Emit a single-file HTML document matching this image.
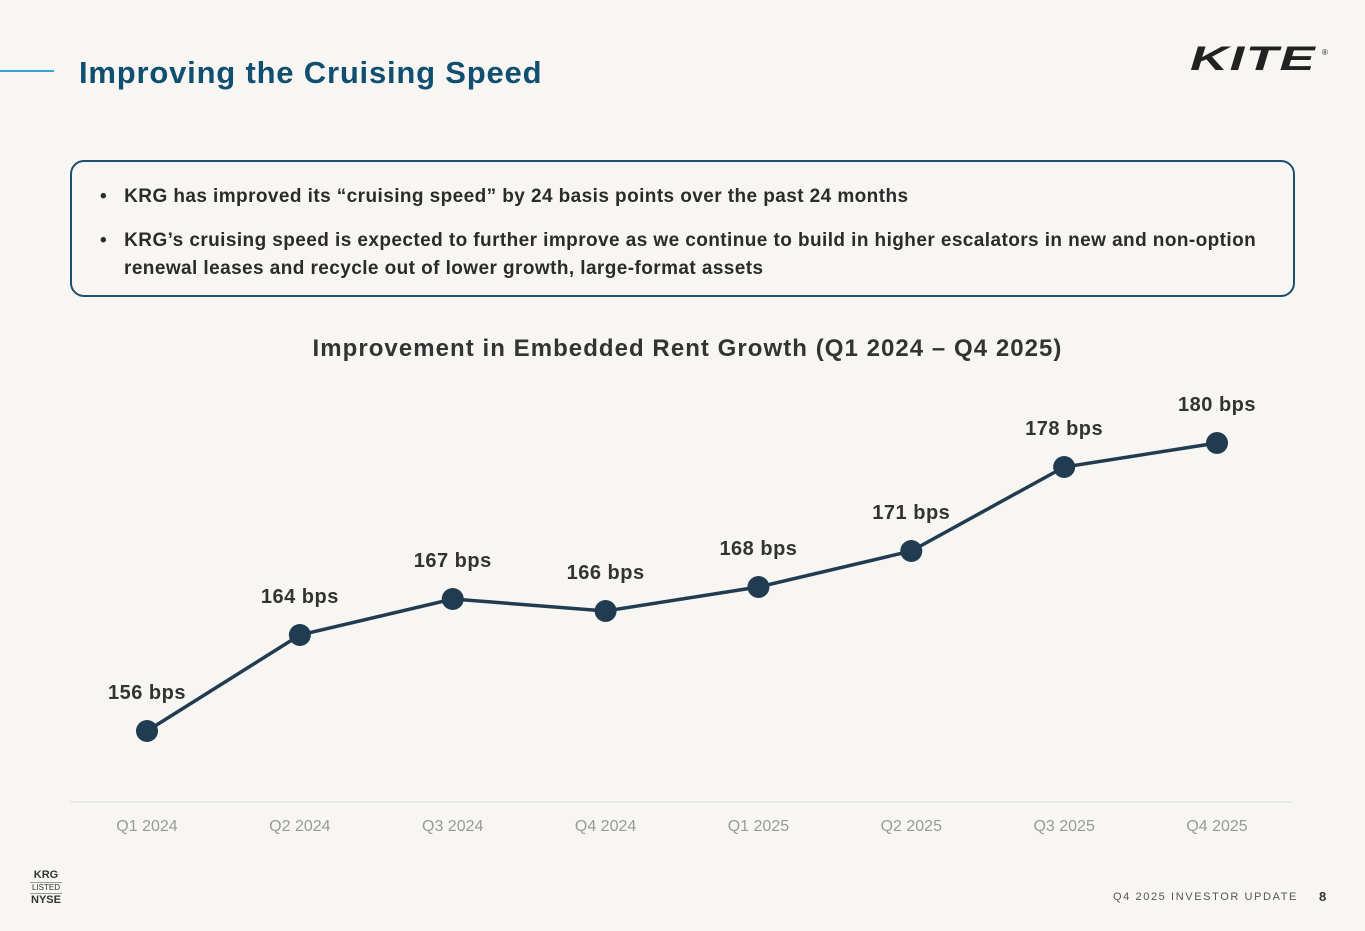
<!DOCTYPE html>
<html><head><meta charset="utf-8"><style>
body{margin:0;width:1365px;height:931px;background:#f8f6f3;font-family:"Liberation Sans",sans-serif;position:relative;overflow:hidden}
.abs{position:absolute}
</style></head><body>
<div class="abs" style="left:0;top:70px;width:54px;height:2px;background:#3aa0d8"></div>
<div class="abs" style="left:79px;top:55px;font-size:31px;font-weight:bold;color:#104f70;letter-spacing:0.8px">Improving the Cruising Speed</div>
<div class="abs" style="left:1190px;top:40px;font-size:34px;font-weight:bold;font-style:italic;color:#222;letter-spacing:1px;transform:scaleX(1.55);transform-origin:left">KITE</div>
<div class="abs" style="left:1322px;top:48px;font-size:8px;color:#222">®</div>
<div class="abs" style="left:70px;top:160px;width:1225px;height:137px;border:2px solid #1d4f6e;border-radius:14px;box-sizing:border-box"></div>
<div class="abs" style="left:100px;top:186px;font-size:19px;color:#2b2b2b;font-weight:bold;letter-spacing:0.42px">•&nbsp;&nbsp; KRG has improved its “cruising speed” by 24 basis points over the past 24 months</div>
<div class="abs" style="left:100px;top:227px;width:1200px;font-size:19px;color:#2b2b2b;font-weight:bold;line-height:28px;letter-spacing:0.42px">•&nbsp;&nbsp; KRG’s cruising speed is expected to further improve as we continue to build in higher escalators in new and non-option<br><span style="padding-left:24px">renewal leases and recycle out of lower growth, large-format assets</span></div>
<div class="abs" style="left:0;width:1375px;top:335px;text-align:center;font-size:24px;font-weight:bold;color:#333;letter-spacing:1.05px">Improvement in Embedded Rent Growth (Q1 2024 – Q4 2025)</div>
<svg class="abs" style="left:0;top:0" width="1365" height="931" id="chart"></svg>
<div class="abs" style="left:30px;top:869px;width:32px;text-align:center;color:#333;font-size:11px;font-weight:bold;line-height:13px">KRG<div style="font-weight:normal;font-size:8px;border-top:1px solid #999;border-bottom:1px solid #999;line-height:10px">LISTED</div>NYSE</div>
<div class="abs" style="left:1113px;top:891px;font-size:11px;letter-spacing:1.6px;color:#555">Q4 2025 INVESTOR UPDATE</div>
<div class="abs" style="left:1319px;top:889px;font-size:13px;font-weight:bold;color:#333">8</div>
<script>
const categories=["Q1 2024","Q2 2024","Q3 2024","Q4 2024","Q1 2025","Q2 2025","Q3 2025","Q4 2025"];
const values=[156,164,167,166,168,171,178,180];
const valueLabels=["156 bps","164 bps","167 bps","166 bps","168 bps","171 bps","178 bps","180 bps"];
const svg=document.getElementById('chart');
const NS='http://www.w3.org/2000/svg';
const x=i=>147+i*152.86;
const y=v=>731-(v-156)*12;
function mk(t,a){const e=document.createElementNS(NS,t);for(const k in a)e.setAttribute(k,a[k]);svg.appendChild(e);return e;}
const ax=mk('line',{x1:70,x2:1293,y1:802,y2:802,stroke:'#ddd','stroke-width':1});


const pl=mk('polyline',{points:values.map((v,i)=>x(i)+','+y(v)).join(' '),fill:'none',stroke:'#213b50','stroke-width':3.5});


values.forEach((v,i)=>{
 const c=mk('circle',{cx:x(i),cy:y(v),r:11,fill:'#213b50'});
 
 
 const l=mk('text',{x:x(i),y:y(v)-32,'text-anchor':'middle','font-size':20,'font-weight':'bold',fill:'#333','font-family':'Liberation Sans','letter-spacing':0.5});
 l.textContent=valueLabels[i];
 
 
 const t=mk('text',{x:x(i),y:831,'text-anchor':'middle','font-size':16,fill:'#999','font-family':'Liberation Sans'});
 t.textContent=categories[i];
 
 
});
</script>
</body></html>
